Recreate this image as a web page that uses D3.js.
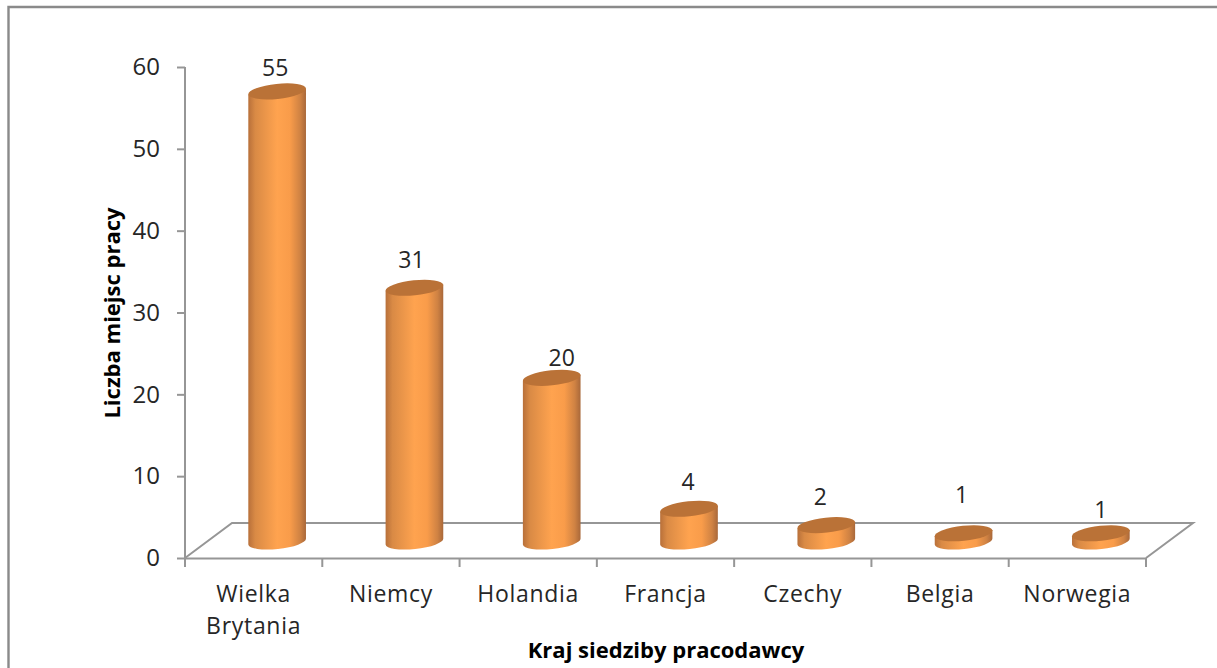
<!DOCTYPE html>
<html><head><meta charset="utf-8">
<script src="https://cdn.jsdelivr.net/npm/d3@7/dist/d3.min.js"></script>
<style>html,body{margin:0;padding:0;background:#fff;overflow:hidden}svg{display:block}text{font-family:"Open Sans","Noto Sans",sans-serif;fill:#262626}</style>
</head><body><script>
const categories = ["Wielka Brytania","Niemcy","Holandia","Francja","Czechy","Belgia","Norwegia"];
const values = [55,31,20,4,2,1,1];
const yTicks = [0,10,20,30,40,50,60];
const yTitle = "Liczba miejsc pracy";
const xTitle = "Kraj siedziby pracodawcy";

const W=1217,H=668, x0=185,x1=1146,y0=558,y60=67, depthX=47,depthY=35;
const fontFamily='"Open Sans","Noto Sans",sans-serif';
const svg=d3.select("body").append("svg").attr("width",W).attr("height",H);
const defs=svg.append("defs");
const grad=defs.append("linearGradient").attr("id","cyl");
[[0,"#b8703a"],[.12,"#d98a45"],[.5,"#ffa34f"],[.72,"#f99c4a"],[.9,"#cf8243"],[1,"#a9683a"]]
  .forEach(([o,c])=>grad.append("stop").attr("offset",o).attr("stop-color",c));

const x=d3.scaleBand().domain(categories).range([x0,x1]);
const y=d3.scaleLinear().domain([0,60]).range([y0,y60]);

// frame: the reference shows only the top and left edges
svg.append("path").attr("fill","none").attr("stroke","#8a8a8a").attr("stroke-width",2.4)
  .attr("d",`M8.5,${H}V7H${W}`);

// floor
const grey="#969696";
svg.append("path").attr("fill","none").attr("stroke",grey).attr("stroke-width",2)
  .attr("d",`M${x0},${y0}L${x0+depthX},${y0-depthY}L${x1+depthX},${y0-depthY}L${x1},${y0}`);

// axes
const gy=svg.append("g").attr("transform",`translate(${x0},0)`)
  .call(d3.axisLeft(y).tickValues(yTicks).tickSize(8).tickPadding(17));
const gx=svg.append("g").attr("transform",`translate(0,${y0})`)
  .call(d3.axisBottom(x).tickValues([]).tickSizeOuter(0));
gx.selectAll(".tk").data(d3.range(categories.length+1)).join("line").attr("class","tk")
  .attr("x1",i=>x0+i*x.step()).attr("x2",i=>x0+i*x.step()).attr("y1",0).attr("y2",9)
  .attr("stroke",grey).attr("stroke-width",2);
[gy,gx].forEach(g=>{g.selectAll(".domain").attr("stroke",grey).attr("stroke-width",2);
  g.selectAll(".tick line").attr("stroke",grey).attr("stroke-width",2);});
gy.selectAll(".domain").attr("d",`M0,${y60}V${y0}`);
gy.selectAll("text").attr("font-size",24).style("font-family",fontFamily);

// category labels
const catLabels=svg.append("g").attr("font-size",23).attr("letter-spacing",0.7);
categories.forEach((c,i)=>{
  const parts=c.split(" ");
  const cx=x(c)+x.bandwidth()/2;
  const t=catLabels.append("text").attr("text-anchor","middle").attr("y",602);
  parts.forEach((p,j)=>t.append("tspan").attr("x",cx).attr("dy",j?31.5:0).text(p));
});

// cylinders
const rx=x.bandwidth()*0.21, ry=7.5, tilt=-6;
const barCx=d=>x(d)+x.bandwidth()/2+depthX/2;
const cy=v=>y(v)-depthY/2+1;
const g=svg.append("g").selectAll("g").data(categories).join("g");
g.append("path").attr("fill","url(#cyl)").attr("d",(c,i)=>{
  const X=barCx(c), t=cy(values[i]), b=cy(0);
  const dy=rx*Math.tan(-tilt*Math.PI/180);
  return `M${X-rx},${t+dy}L${X+rx},${t-dy}L${X+rx},${b-dy}A${rx},${ry} ${tilt} 0 1 ${X-rx},${b+dy}Z`;
});
g.append("ellipse").attr("rx",rx/Math.cos(tilt*Math.PI/180)).attr("ry",ry).attr("fill","#ba7237")
  .attr("transform",(c,i)=>`translate(${barCx(c)},${cy(values[i])}) rotate(${tilt})`);

// data labels (placed unevenly around each cap, as in the reference)
const labelGaps=[23,28,20,27,28,38,23];
const labelShift=[-2,-3,10,-1,-6,-2,0];
svg.append("g").selectAll("text").data(values).join("text")
  .attr("x",(v,i)=>barCx(categories[i])+labelShift[i]).attr("y",(v,i)=>cy(v)-labelGaps[i]+8)
  .attr("text-anchor","middle").attr("font-size",23).text(v=>v);

// titles
svg.append("text").attr("transform","translate(120,313) rotate(-90)").attr("text-anchor","middle")
  .attr("font-size",22).attr("font-weight",700).style("fill","#000").text(yTitle);
svg.append("text").attr("x",666).attr("y",658).attr("text-anchor","middle")
  .attr("font-size",22).attr("font-weight",700).style("fill","#000").text(xTitle);
</script></body></html>
